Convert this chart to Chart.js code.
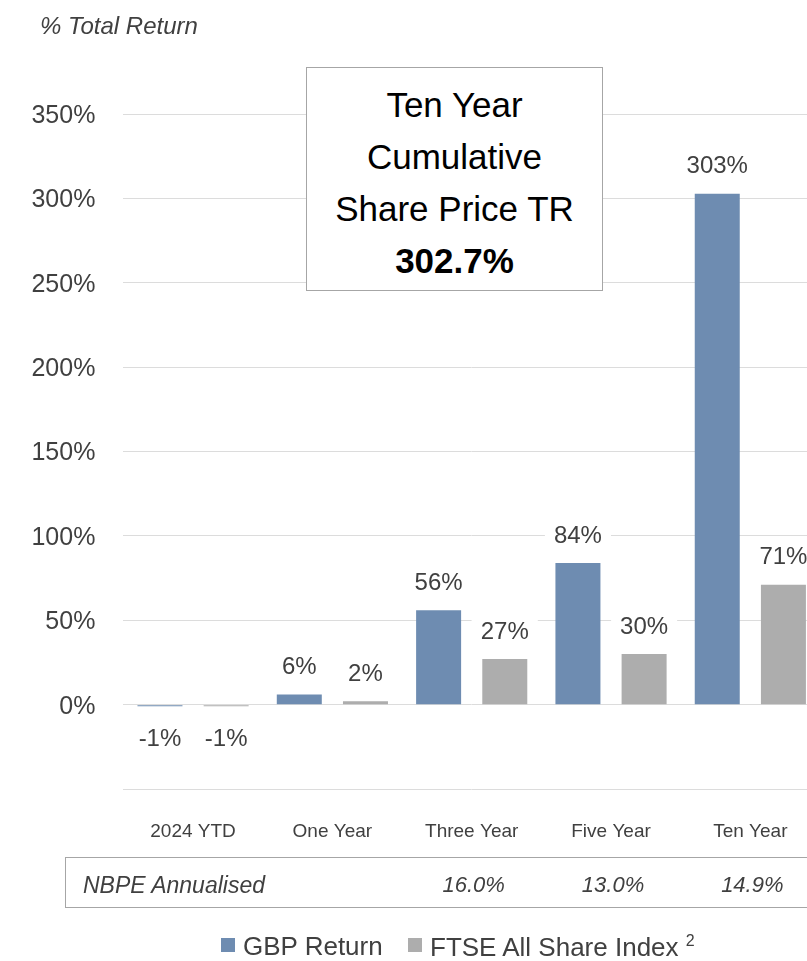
<!DOCTYPE html>
<html>
<head>
<meta charset="utf-8">
<script src="https://cdn.jsdelivr.net/npm/chart.js@4"></script>
<style>
  body { margin: 0; width: 807px; height: 961px; overflow: hidden; background: #fff; font-family: "Liberation Sans", Arial, sans-serif; }
  #wrap { position: absolute; left: 0; top: 0; width: 807px; height: 961px; overflow: hidden; }
  canvas { position: absolute; left: 0; top: 0; }
  .txt { position: absolute; line-height: 1; white-space: nowrap; color: #404040; }
  #callout { position: absolute; left: 306px; top: 67px; width: 297px; height: 224px; border: 1.5px solid #a6a6a6; background: #fff; text-align: center; color: #000; font-size: 35px; line-height: 52px; box-sizing: border-box; padding-top: 11px; }
  #table { position: absolute; left: 65px; top: 857px; width: 760px; height: 51px; border: 1.5px solid #a6a6a6; box-sizing: border-box; }
  .sq { position: absolute; width: 14px; height: 14px; }
</style>
</head>
<body>
<div id="wrap">
  <canvas id="myChart" width="820" height="961"></canvas>
  <div class="txt" style="left:40px; top:14px; font-size:24px; font-style:italic;">% Total Return</div>
  <div id="callout">Ten Year<br>Cumulative<br>Share Price TR<br><b>302.7%</b></div>
  <div id="table"></div>
  <div class="txt" style="left:83px; top:874px; font-size:23px; font-style:italic;">NBPE Annualised</div>
  <div id="legend"></div>
</div>
<script>
// categories and values
const categories = ['2024 YTD', 'One Year', 'Three Year', 'Five Year', 'Ten Year'];
const gbpReturn = [-1, 6, 56, 84, 302.7];
const ftseAllShare = [-1, 2, 27, 30, 71];
const annualised = [null, null, '16.0%', '13.0%', '14.9%'];
const seriesNames = ['GBP Return', 'FTSE All Share Index'];
const colors = ['#6E8CB1', '#ADADAD'];
const yMin = -50, yMax = 350, yStep = 50;

// value labels above / below each bar, with white box behind
const valueLabels = {
  id: 'valueLabels',
  afterDatasetsDraw(chart) {
    const ctx = chart.ctx;
    ctx.save();
    ctx.font = '24px "Liberation Sans", Arial, sans-serif';
    ctx.textAlign = 'center';
    ctx.textBaseline = 'middle';
    chart.data.datasets.forEach((ds, i) => {
      chart.getDatasetMeta(i).data.forEach((bar, j) => {
        const v = ds.data[j];
        const txt = Math.round(v) + '%';
        const cy = v >= 0 ? bar.y - 27 : bar.y + 33;
        const w = ctx.measureText(txt).width + 18;
        ctx.fillStyle = '#fff';
        ctx.fillRect(bar.x - w / 2, cy - 20, w, 40);
        ctx.fillStyle = '#404040';
        ctx.fillText(txt, bar.x, cy);
      });
    });
    ctx.restore();
  }
};

const ctx = document.getElementById('myChart');

const chart = new Chart(ctx, {
  type: 'bar',
  data: {
    labels: categories,
    datasets: [
      { label: seriesNames[0], data: gbpReturn, backgroundColor: colors[0] },
      { label: seriesNames[1], data: ftseAllShare, backgroundColor: colors[1] }
    ]
  },
  options: {
    responsive: false,
    animation: false,
    devicePixelRatio: 1,
    categoryPercentage: 0.95,
    barPercentage: 0.68,
    layout: { padding: { left: 0, right: 0, top: 114, bottom: 0 } },
    plugins: { legend: { display: false }, tooltip: { enabled: false } },
    scales: {
      x: {
        grid: { display: false },
        border: { display: false },
        ticks: { color: '#404040', padding: 23, font: { family: 'Liberation Sans', size: 19 } },
        afterFit(scale) { scale.height = 961 - 789; }
      },
      y: {
        min: yMin,
        max: yMax,
        grid: { color: '#dcdcdc', lineWidth: 1, drawTicks: false },
        border: { display: false },
        ticks: {
          stepSize: yStep,
          padding: 28,
          labelOffset: 2,
          color: '#404040',
          font: { family: 'Liberation Sans', size: 25 },
          callback: v => v === yMin ? '' : v + '%'
        },
        afterFit(scale) { scale.width = 123.4; }
      }
    }
  },
  plugins: [valueLabels]
});

// annualised row under the categories
const xs = chart.scales.x;
annualised.forEach((a, i) => {
  if (!a) return;
  const d = document.createElement('div');
  d.className = 'txt';
  d.style.cssText = 'top:874px; font-size:22px; font-style:italic; transform:translateX(-50%);';
  d.style.left = (xs.getPixelForValue(i) + 2) + 'px';
  d.textContent = a;
  document.getElementById('wrap').appendChild(d);
});

// legend
const lg = document.getElementById('legend');
const legendX = [[221, 243], [408, 430]];
seriesNames.forEach((n, i) => {
  const s = document.createElement('div');
  s.className = 'sq';
  s.style.left = legendX[i][0] + 'px';
  s.style.top = '938px';
  s.style.background = colors[i];
  lg.appendChild(s);
  const t = document.createElement('div');
  t.className = 'txt';
  t.style.cssText = 'top:933px; font-size:26px;';
  t.style.left = legendX[i][1] + 'px';
  t.innerHTML = n + (i === 1 ? ' <sup style="font-size:16px; vertical-align:10px;">2</sup>' : '');
  lg.appendChild(t);
});
</script>
</body>
</html>
